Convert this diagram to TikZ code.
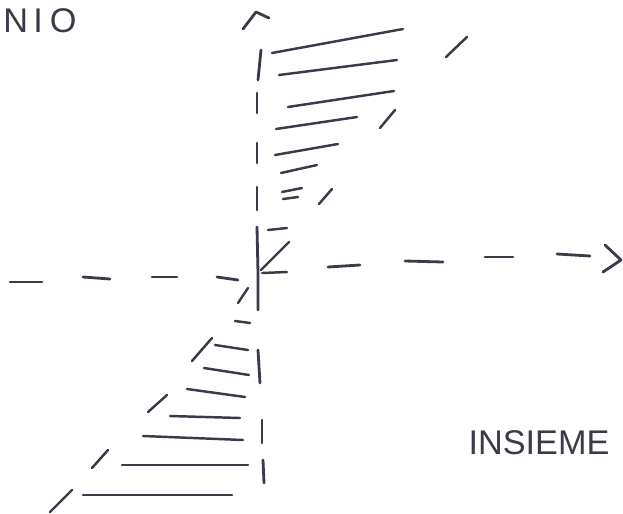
\documentclass[tikz,border=0pt]{standalone}
\usepackage{fontspec}
\setmainfont{Liberation Sans}
\usepackage{tikz}
\usetikzlibrary{positioning, calc}

\definecolor{pencil}{HTML}{3A3B48}

\begin{document}
\begin{tikzpicture}[
    x=0.02cm,
    y=-0.02cm,
    axis/.style={
        draw=pencil,
        line width=1.6pt,
        line cap=round,
        line join=round,
    },
    hatch/.style={
        draw=pencil,
        line width=1.4pt,
        line cap=round,
    },
    slash/.style={
        draw=pencil,
        line width=1.4pt,
        line cap=round,
    },
    label/.style={
        text=pencil,
        font=\fontsize{19.5}{20}\selectfont,
        inner sep=0pt,
    },
]
    \useasboundingbox (0,0) rectangle (623,514);

    \coordinate (origin) at (258,273);

    % labels
    \node[label, anchor=west] (dom) at (3,21) {N\kern3pt I\kern4pt O};
    \node[label] (ins) at (539,443) {INSIEME};

    % vertical axis
    \draw[axis] (243,29) -- (256,12) -- (269,18);
    \draw[axis] (261,50) -- (258,80);
    \draw[axis] (257,93) -- (257,113);
    \draw[axis] (257,143) -- (257,163);
    \draw[axis] (257,187) -- (257,210);
    \draw[axis] (257,227) -- (origin) -- (258,310);
    \draw[axis] (258,350) -- (260,383);
    \draw[axis] (262,420) -- (262,443);
    \draw[axis] (263,460) -- (264,483);

    % horizontal axis
    \draw[axis] (10,282) -- (42,282);
    \draw[axis] (83,277) -- (110,279);
    \draw[axis] (152,277) -- (177,277);
    \draw[axis] (217,277) -- (238,280);
    \draw[axis] (328,267) -- (360,265);
    \draw[axis] (405,261) -- (443,262);
    \draw[axis] (485,257) -- (513,257);
    \draw[axis] (557,254) -- (590,256);
    \draw[axis] (605,245) -- (621,260) -- (603,272);

    % upper region
    \draw[hatch] (272,53) -- (403,29);
    \draw[hatch] (279,75) -- (397,60);
    \draw[hatch] (288,107) -- (394,91);
    \draw[hatch] (276,129) -- (357,117);
    \draw[hatch] (275,155) -- (338,144);
    \draw[hatch] (281,173) -- (317,165);
    \draw[hatch] (282,192) -- (302,188);
    \draw[hatch] (283,199) -- (298,197);
    \draw[hatch] (268,230) -- (287,228);
    \draw[hatch] (262,273) -- (287,272);

    \draw[slash] (446,57) -- (467,37);
    \draw[slash] (380,128) -- (395,110);
    \draw[slash] (319,204) -- (332,189);
    \draw[slash] (261,270) -- (289,242);

    % lower region
    \draw[hatch] (235,321) -- (250,323);
    \draw[hatch] (215,345) -- (248,350);
    \draw[hatch] (204,368) -- (249,375);
    \draw[hatch] (187,389) -- (245,397);
    \draw[hatch] (170,416) -- (240,418);
    \draw[hatch] (143,436) -- (243,440);
    \draw[hatch] (122,465) -- (248,465);
    \draw[hatch] (83,495) -- (232,495);

    \draw[slash] (238,303) -- (248,288);
    \draw[slash] (192,361) -- (212,338);
    \draw[slash] (148,412) -- (167,395);
    \draw[slash] (92,468) -- (108,450);
    \draw[slash] (50,512) -- (72,490);

\end{tikzpicture}
\end{document}
